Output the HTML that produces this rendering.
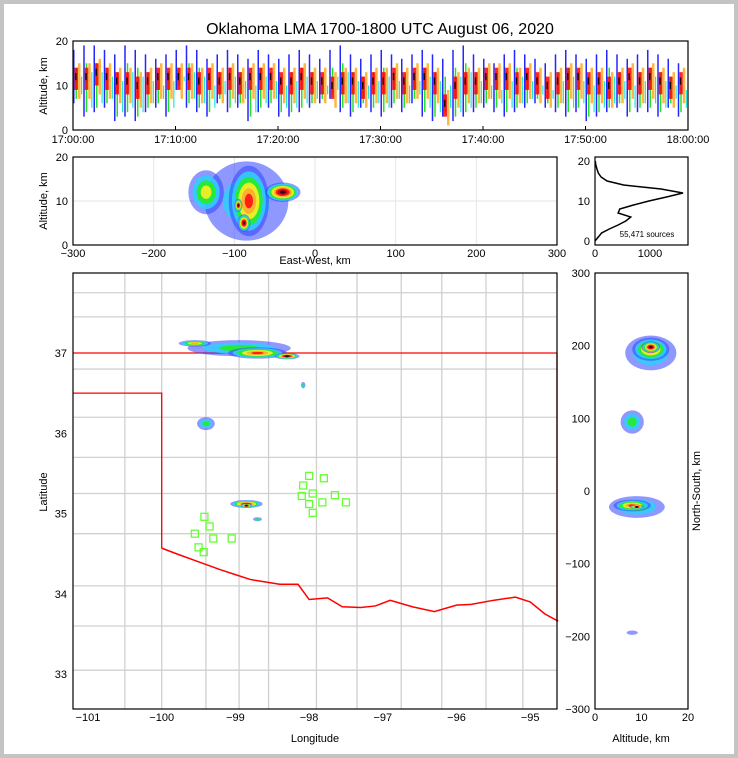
<!DOCTYPE html>
<html><head><meta charset="utf-8"><style>
body{margin:0;background:#c4c4c4;}
#wrap{position:absolute;left:4px;top:4px;width:730px;height:750px;background:#fff;}
svg{position:absolute;left:0;top:0;font-family:"Liberation Sans",sans-serif;}
</style></head><body>
<div id="wrap"></div>
<svg id="s" width="738" height="758"></svg>
<script>
const minutes=[...Array(60).keys()];
const colBot=[6,3,4,5,2,3,2,4,5,3,9,5,4,3,6,4,5,2,4,5,3,3,4,5,6,7,4,3,5,4,3,5,4,6,3,2,3,2,3,4,5,4,3,4,5,6,5,4,3,4,2,3,4,5,3,4,4,3,5,3];
const colTop=[18,19,19,18,17,19,18,17,16,17,18,19,18,16,17,18,17,16,18,17,16,17,18,17,16,18,19,17,16,17,18,17,16,17,18,17,16,18,19,17,16,15,17,18,17,16,15,17,18,17,16,17,18,17,16,17,18,17,16,15];
const colCore=[12,12,13,12,11,11,10,11,12,12,12,12,11,12,11,12,11,12,12,12,11,11,12,11,11,10,11,11,10,11,11,12,11,12,12,11,6,10,11,11,12,12,12,11,12,11,10,11,12,12,11,11,10,11,12,11,12,11,10,11];
const histAlt=[0,1,2,3,4,5,6,7,8,9,10,11,12,13,14,15,16,17,18,19,20];
const histCount=[0,60,120,260,420,560,650,420,450,700,980,1300,1600,1200,520,220,110,60,35,15,5];
const ewBlobs=[[-85,10,52,9,1],[-135,12,22,5,3],[-82,10,25,8,5],[-40,12,22,2.2,7],[-88,5,8,2,7],[-95,9,5,1.5,7]];
const mapBlobs=[[-98.95,37.06,0.7,0.1,2],[-98.7,37.0,0.4,0.07,5],[-98.3,36.96,0.17,0.04,7],[-99.55,37.12,0.22,0.04,4],[-99.4,36.12,0.12,0.08,2],[-98.85,35.12,0.22,0.05,6],[-98.85,35.1,0.08,0.025,7],[-98.7,34.93,0.06,0.025,2],[-98.08,36.6,0.03,0.04,2]];
const nsBlobs=[[12,190,5.5,24,2],[12,195,4,16,5],[12,198,2,8,7],[8,95,2.5,16,2],[9,-22,6,15,2],[8,-20,4,8,5],[9,-22,1.5,3,7],[8,-195,1.2,3,0]];
const stations=[[-98.0,35.47],[-97.8,35.44],[-98.08,35.35],[-98.1,35.22],[-97.95,35.25],[-97.65,35.23],[-97.82,35.14],[-97.5,35.14],[-98.0,35.12],[-97.95,35.01],[-99.42,34.96],[-99.35,34.84],[-99.55,34.75],[-99.3,34.69],[-99.05,34.69],[-99.5,34.58],[-99.43,34.52]];
const border=[[-100,34.57],[-99.8,34.5],[-99.5,34.4],[-99.2,34.3],[-99,34.24],[-98.8,34.18],[-98.6,34.15],[-98.4,34.12],[-98.15,34.12],[-98.0,33.93],[-97.75,33.95],[-97.55,33.84],[-97.3,33.83],[-97.1,33.85],[-96.9,33.92],[-96.6,33.84],[-96.3,33.78],[-96.0,33.86],[-95.8,33.87],[-95.5,33.92],[-95.2,33.96],[-95.0,33.9],[-94.8,33.75],[-94.62,33.66]];
const timeTicks=["17:00:00","17:10:00","17:20:00","17:30:00","17:40:00","17:50:00","18:00:00"];
const lonTicks=[-101,-100,-99,-98,-97,-96,-95];
const latTicks=[33,34,35,36,37];

const S=document.getElementById('s');const NS='http://www.w3.org/2000/svg';
function el(t,a,txt){const e=document.createElementNS(NS,t);for(const k in a)e.setAttribute(k,a[k]);if(txt!==undefined)e.textContent=txt;S.appendChild(e);return e;}
const tx=m=>73+m/60*615, ty=a=>130-a/20*89;
const ex=k=>315+k*242/300, ey=a=>245-a*88/20;
const hx=c=>595+c*0.055, hy=a=>241-a*4;
const mx=l=>88+(l+101)*73.7, my=l=>353-(l-37)*80.3;
const nx=a=>595+a*4.65, ny=k=>491-k*0.7267;
const lvl=['#3344ff','#33ccff','#22ee22','#ffee22','#ffaa33','#ff1111','#cc0022','#111111','#bbbbbb'];
function blob(cx,cy,rx,ry,L,name){for(let i=0;i<=L;i++){const f=1-i/(L+1.3);const e=el('ellipse',{cx,cy,rx:Math.max(rx*f,1),ry:Math.max(ry*f,1),fill:lvl[i],opacity:i==0?0.55:0.9});}}
function frame(x,y,w,h,n){const r=el('rect',{x,y,width:w,height:h,fill:'none',stroke:'#000','stroke-width':1.2});}
function txt(x,y,s,o){o=o||{};const t=el('text',Object.assign({x,y,'font-size':11,'text-anchor':'middle'},o),s);return t;}

let t=el('text',{x:380,y:34,'font-size':16,'text-anchor':'middle'},'Oklahoma LMA 1700-1800 UTC August 06, 2020');

// top panel
minutes.forEach(m=>{const x=tx(m);
 [[colBot[m],colTop[m],'#0000ff',0,1.5],[colBot[m]+1,colTop[m]-4,'#00dd00',2.5,1.5],[colBot[m]+2,colTop[m]-6,'#00dddd',8,1.2],[colCore[m]-5,colCore[m]+3,'#ffaa22',5,2.5],[colCore[m]-3,colCore[m]+2,'#ff0000',1.5,3.5],[colCore[m]-0.8,colCore[m]+0.8,'#000000',2,1.5]].forEach(s=>{
  const r=el('rect',{x:x+s[3],y:ty(s[1]),width:s[4],height:ty(s[0])-ty(s[1]),fill:s[2],opacity:0.85});
  });
});
frame(73,41,615,89,'time-height-panel');
[0,10,20].forEach(v=>txt(68,ty(v)+4,v,{'text-anchor':'end'}));
timeTicks.forEach((s,i)=>{txt(tx(i*10),143,s);el('line',{x1:tx(i*10),x2:tx(i*10),y1:130,y2:126,stroke:'#000'});});
txt(47,86,'Altitude, km',{transform:'rotate(-90 47 86)',n:'y-axis-title'});

// EW panel
[-200,-100,0,100,200].forEach(v=>el('line',{x1:ex(v),x2:ex(v),y1:157,y2:245,stroke:'#e6e6e6'}));
el('line',{x1:73,x2:557,y1:ey(10),y2:ey(10),stroke:'#e6e6e6'});
ewBlobs.forEach(b=>blob(ex(b[0]),ey(b[1]),b[2]*242/300,b[3]*4.4,b[4],'ew-source-cluster'));
frame(73,157,484,88,'east-west-panel');
[0,10,20].forEach(v=>txt(68,ey(v)+4,v,{'text-anchor':'end'}));
[-300,-200,-100,0,100,200,300].forEach(v=>txt(ex(v),257,v<0?'\u2212'+(-v):v));
txt(315,264,'East-West, km',{n:'x-axis-title'});
txt(47,201,'Altitude, km',{transform:'rotate(-90 47 201)',n:'y-axis-title'});

// histogram
let p=histAlt.map((a,i)=>(i?'L':'M')+hx(histCount[i])+','+hy(a)).join('');
t=el('path',{d:p,fill:'none',stroke:'#000','stroke-width':1.5});
frame(595,157,93,88,'histogram-panel');
[0,10,20].forEach(v=>txt(590,hy(v)+4,v,{'text-anchor':'end'}));
[0,1000].forEach(v=>txt(hx(v),257,v));
txt(647,237,'55,471 sources',{'font-size':8,n:'source-count'});

// map
const vx=[-100.5,-100,-99.4,-98.95,-98.55,-97.9,-97.35,-96.75,-96.2,-95.6,-95.1];
vx.forEach(v=>el('line',{x1:mx(v),x2:mx(v),y1:273,y2:709,stroke:'#d0d0d0','stroke-width':1.3,}));
[37.75,37.45,36.8,36.2,35.7,35.25,34.75,34.1,33.6,33.05].forEach(v=>el('line',{x1:73,x2:557,y1:my(v),y2:my(v),stroke:'#d0d0d0','stroke-width':1.3,}));
el('line',{x1:73,x2:557,y1:my(37),y2:my(37),stroke:'#f00','stroke-width':1.3});
el('polyline',{points:[[73,my(36.5)],[mx(-100),my(36.5)],[mx(-100),my(34.57)]].join(' '),fill:'none',stroke:'#f00','stroke-width':1.3});
el('line',{x1:557,x2:557,y1:my(37),y2:my(33.66),stroke:'#f00','stroke-width':1.3});
t=el('polyline',{points:border.map(b=>mx(b[0])+','+my(b[1])).join(' '),fill:'none',stroke:'#f00','stroke-width':1.5});
mapBlobs.forEach(b=>blob(mx(b[0]),my(b[1]),b[2]*73.7,b[3]*80.3,b[4],'map-source-cluster'));
stations.forEach(s=>{const r=el('rect',{x:mx(s[0])-3.5,y:my(s[1])-3.5,width:7,height:7,fill:'none',stroke:'#66ff33','stroke-width':1.3});});
frame(73,273,484,436,'plan-view-map');
lonTicks.forEach(v=>txt(mx(v),721,'\u2212'+(-v)));
latTicks.forEach(v=>txt(67,my(v)+4,v,{'text-anchor':'end'}));
txt(315,742,'Longitude',{n:'x-axis-title'});
txt(47,492,'Latitude',{transform:'rotate(-90 47 492)',n:'y-axis-title'});

// NS panel
nsBlobs.forEach(b=>blob(nx(b[0]),ny(b[1]),b[2]*4.65,b[3]*0.7267,b[4],'ns-source-cluster'));
frame(595,273,93,436,'north-south-panel');
[300,200,100,0,-100,-200,-300].forEach(v=>txt(590,ny(v)+4,v<0?'\u2212'+(-v):v,{'text-anchor':'end'}));
[0,10,20].forEach(v=>txt(nx(v),721,v));
txt(641,742,'Altitude, km',{n:'x-axis-title'});
txt(700,491,'North-South, km',{transform:'rotate(-90 700 491)',n:'y-axis-title'});
</script></body></html>
